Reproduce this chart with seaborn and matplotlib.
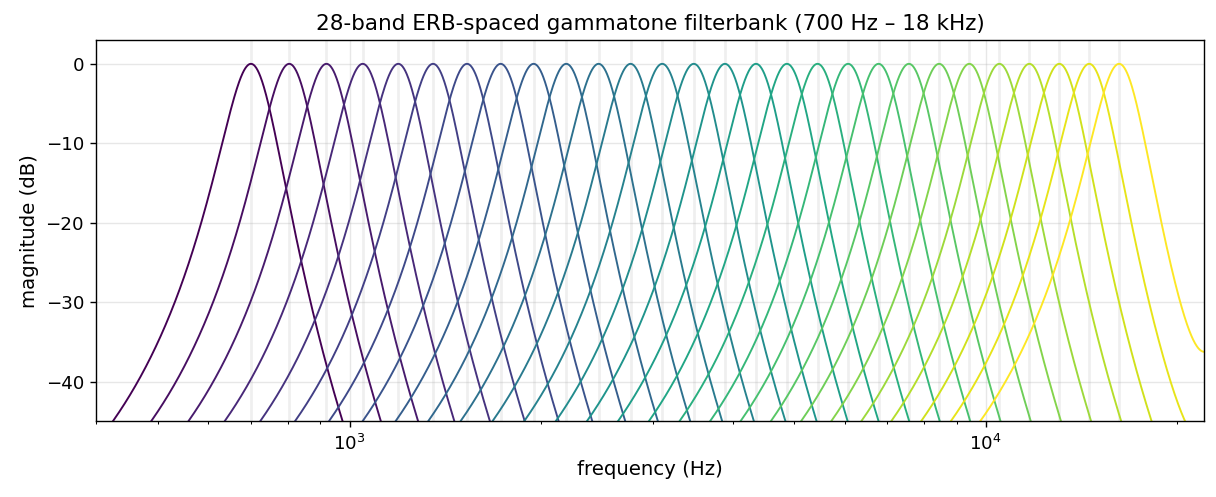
import numpy as np
import pandas as pd
import matplotlib
matplotlib.use("Agg")
import matplotlib.pyplot as plt
import seaborn as sns

# centre frequencies (Hz) of the 28 bands, read from the peaks
center_freqs = [700, 804, 920, 1049, 1193, 1353, 1530, 1728, 1947, 2191,
                2463, 2765, 3101, 3476, 3891, 4354, 4869, 5440, 6076, 6784,
                7571, 8446, 9421, 10504, 11708, 13049, 14539, 16200]
bandwidth_ratio = 0.112   # bandwidth / centre frequency
filter_order = 4
sample_rate = 44100
title = "28-band ERB-spaced gammatone filterbank (700 Hz \u2013 18 kHz)"

nyq = sample_rate / 2
freqs = np.geomspace(400, nyq, 2500)

def amp(f, fc):
    b = bandwidth_ratio * fc
    return (1 + ((f - fc) / b) ** 2) ** (-filter_order / 2)

rows = []
for i, fc in enumerate(center_freqs):
    h = amp(freqs, fc) + amp(sample_rate - freqs, fc)
    h = h / (amp(fc, fc) + amp(sample_rate - fc, fc))
    db = 20 * np.log10(h)
    rows.append(pd.DataFrame({"band": i, "freq": freqs, "db": db}))
df = pd.concat(rows, ignore_index=True)

W, H, DPI = 1216, 497, 125
fig = plt.figure(figsize=(W / DPI, H / DPI), dpi=DPI)
ax = fig.add_axes([96.3 / W, 1 - 421.3 / H, (1204.3 - 96.3) / W, (421.3 - 40) / H])

for fc in center_freqs:
    ax.axvline(fc, color="0.5", alpha=0.12, lw=1.6, zorder=0)

sns.lineplot(data=df, x="freq", y="db", hue="band", palette="viridis",
             estimator=None, legend=False, lw=1.1, ax=ax, sort=False)

ax.set_xscale("log")
ax.set_xlim(400, nyq)
ax.set_ylim(-45, 3)
ax.grid(True, alpha=0.3)
ax.set_axisbelow(True)
ax.tick_params(labelsize=10.5)
ax.set_xlabel("frequency (Hz)", fontsize=11.4)
ax.set_ylabel("magnitude (dB)", fontsize=11.4)
ax.set_title(title, fontsize=12.4)

fig.savefig("out.png", dpi=DPI)
